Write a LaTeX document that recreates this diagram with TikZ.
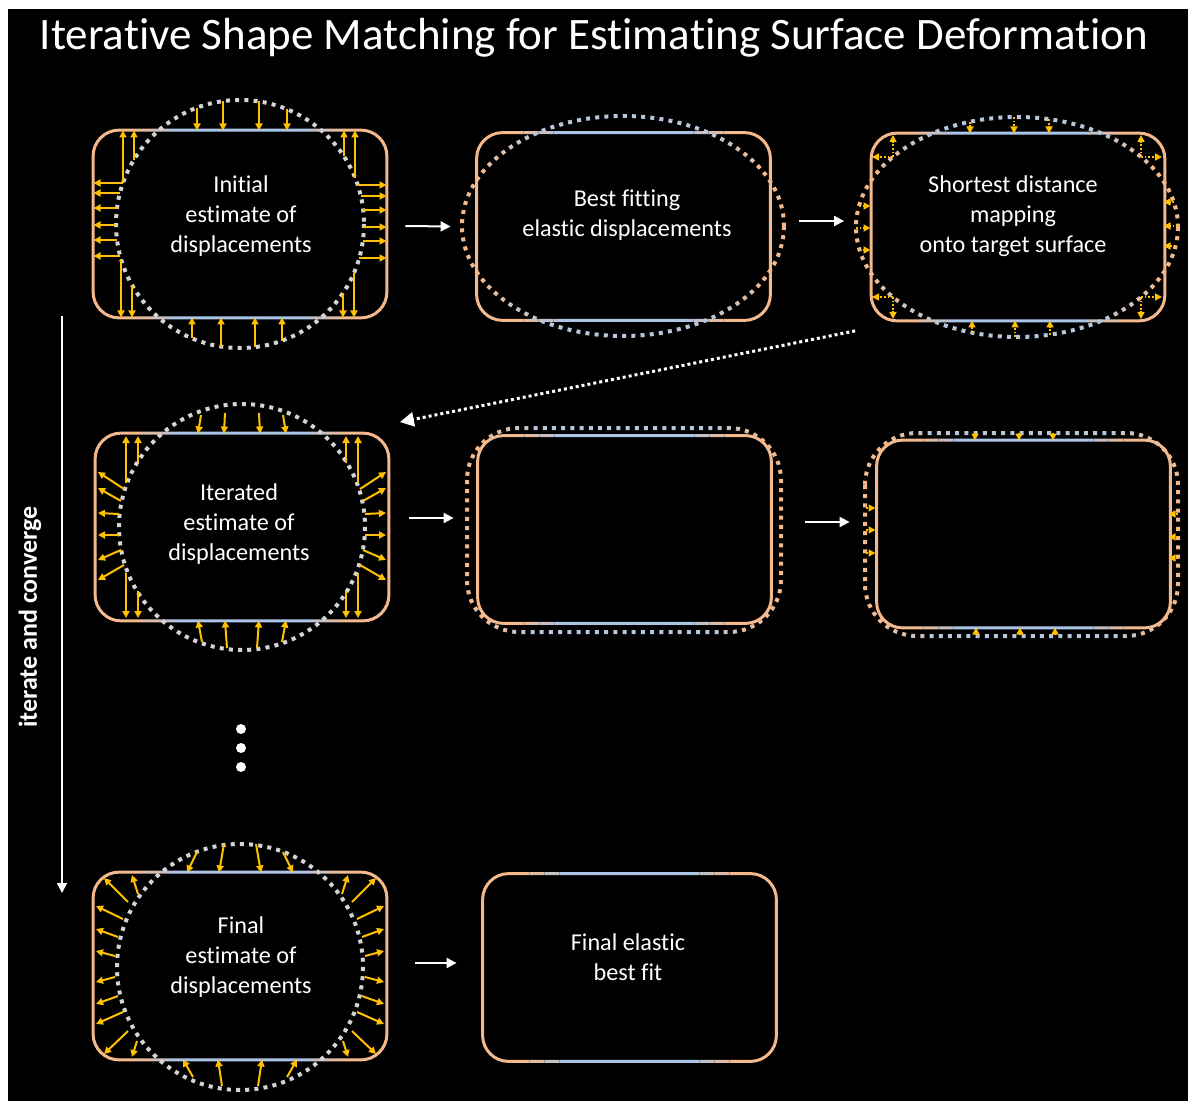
\documentclass[tikz,border=0pt]{standalone}
\usepackage{fontspec}
\setmainfont{Carlito}[Ligatures=NoCommon]
\usetikzlibrary{arrows.meta, positioning, calc}

\definecolor{boxorange}{RGB}{243,185,140}
\definecolor{edgeblue}{RGB}{172,196,230}
\definecolor{dotblue}{RGB}{182,198,220}
\definecolor{dotgray}{RGB}{212,212,212}
\definecolor{dispyellow}{RGB}{255,192,0}

% colour bands: distance from the panel centre / orange share
\newcommand{\boxbands}{0/70/0,70/85/35,85/100/70,100/400/100}
\newcommand{\dotbands}{0/95/0,95/115/35,115/135/70,135/400/100}
% same path drawn band by band, orange at the sides, blue in the middle
\newcommand{\banded}[4]{%
  \foreach \lo/\hi/\mix in #2 {%
    \begin{scope}
      \clip ({#1-\hi},0) rectangle ({#1-\lo},1101) ({#1+\lo},0) rectangle ({#1+\hi},1101);
      \draw[#3=\mix] #4;
    \end{scope}}}

\tikzset{
  panelbox/.style={rectangle, minimum width=146.5pt, minimum height=93.5pt, inner sep=0pt},
  rimline/.style={line width=1.5pt, draw=boxorange!#1!edgeblue},
  fitdots/.style={line width=2pt, dash pattern=on 2pt off 2.6pt, draw=boxorange!#1!dotblue},
  target/.style={draw=dotgray, line width=2pt, dash pattern=on 2pt off 2.6pt},
  paneltext/.style={text=white, align=center, font=\fontsize{12.1}{15}\selectfont},
  disp/.style={draw=dispyellow, line width=1pt, -{Triangle[length=3.5pt,width=3.5pt]}},
  snap/.style={disp, line width=0.8pt, dash pattern=on 0.9pt off 0.9pt},
  flow/.style={draw=white, line width=1pt, -{Triangle[length=5pt,width=5pt]}},
  loopback/.style={draw=white, line width=1.5pt, dash pattern=on 1.5pt off 1.5pt, -{Triangle[length=7pt,width=7pt]}}
}

\begin{document}
\begin{tikzpicture}[x=0.5pt, y=-0.5pt]
    \useasboundingbox (0,0) rectangle (1188,1101);
    \fill[white] (0,0) rectangle (1188,1101);
    \fill[black] (8,9) rectangle (1188,1101);

    \node[text=white, font=\fontsize{22.5}{27}\selectfont, anchor=base] (title) at (594,50)
        {Iterative Shape Matching for Estimating Surface Deformation};

    % Panels
    \node[panelbox] (init)  at (240,224)      {};
    \node[panelbox] (fit)   at (623.5,226.5)  {};
    \node[panelbox] (map)   at (1018,227)     {};
    \node[panelbox] (iter)  at (242,527)      {};
    \node[panelbox] (fit2)  at (624.5,529.5)  {};
    \node[panelbox] (map2)  at (1023.5,534)   {};
    \node[panelbox] (final) at (240,966)      {};
    \node[panelbox] (best)  at (629.5,967.5)  {};

    \banded{240}{\boxbands}{rimline}{[rounded corners=13pt] (init.south west) rectangle (init.north east)}
    \banded{623.5}{\boxbands}{rimline}{[rounded corners=13pt] (fit.south west) rectangle (fit.north east)}
    \banded{1018}{\boxbands}{rimline}{[rounded corners=13pt] (map.south west) rectangle (map.north east)}
    \banded{242}{\boxbands}{rimline}{[rounded corners=13pt] (iter.south west) rectangle (iter.north east)}
    \banded{624.5}{\boxbands}{rimline}{[rounded corners=13pt] (fit2.south west) rectangle (fit2.north east)}
    \banded{1023.5}{\boxbands}{rimline}{[rounded corners=13pt] (map2.south west) rectangle (map2.north east)}
    \banded{240}{\boxbands}{rimline}{[rounded corners=13pt] (final.south west) rectangle (final.north east)}
    \banded{629.5}{\boxbands}{rimline}{[rounded corners=13pt] (best.south west) rectangle (best.north east)}

    % Target surface and fitted outlines
    \draw[target] (init.center) circle[radius=124];
    \draw[target] (iter.center) circle[radius=123];
    \draw[target] (240,967) circle[radius=123];
    \banded{623}{\dotbands}{fitdots}{(623,226) ellipse [x radius=161, y radius=110]}
    \banded{1017}{\dotbands}{fitdots}{(1017,227) ellipse [x radius=161, y radius=110]}
    \banded{624}{\dotbands}{fitdots}{[rounded corners=26pt] (467,428) rectangle (781,632)}
    \banded{1022}{\dotbands}{fitdots}{[rounded corners=26pt] (865,433) rectangle (1178,636)}

    % Texts
    \node[paneltext] (initT)  at (241,216) {Initial\\estimate of\\displacements};
    \node[paneltext] (fitT)   at (627,215) {Best fitting\\elastic displacements};
    \node[paneltext] (mapT)   at (1013,216) {Shortest distance\\mapping\\onto target surface};
    \node[paneltext] (iterT)  at (239,524) {Iterated\\estimate of\\displacements};
    \node[paneltext] (finalT) at (241,957) {Final\\estimate of\\displacements};
    \node[paneltext] (bestT)  at (628,957) {Final elastic\\best fit};

    % Initial displacements, straight onto the box
    \begin{scope}[shift={(init.center)}]
        \foreach \d in {-117,-106,-43,-17,19,47,104,115} {
            \pgfmathsetmacro\h{sqrt(15376-(\d)^2)}
            \draw[disp] (\d,-\h) -- (\d,-93.5);
        }
        \foreach \d in {-119,-108,-48,-19,15,42,103,114} {
            \pgfmathsetmacro\h{sqrt(15376-(\d)^2)}
            \draw[disp] (\d,\h) -- (\d,93.5);
        }
        \foreach \d in {-41,-31,-16,1,16,32} {
            \pgfmathsetmacro\h{sqrt(15376-(\d)^2)}
            \draw[disp] (-\h,\d) -- (-146.5,\d);
        }
        \foreach \d in {-39,-28,-14,3,17,34} {
            \pgfmathsetmacro\h{sqrt(15376-(\d)^2)}
            \draw[disp] (\h,\d) -- (146.5,\d);
        }
    \end{scope}

    % Iterated displacements (left half, mirrored)
    \begin{scope}[shift={(iter.center)}]
        \foreach \s in {1,-1}
        \foreach \xa/\ya/\xb/\yb in {-41/-112/-44/-93.5, -17/-114/-18/-93.5, -116/-44/-116/-91, -104/-64/-104/-91,
                -118/-38/-144/-55, -121/-26/-144/-39, -123/-13/-144/-14, -123/8/-144/8, -121/23/-144/33, -118/38/-144/53,
                -116/46/-116/91, -104/64/-104/91, -40/115/-44/93.5, -15/121/-17/93.5}
            \draw[disp] ({\s*(\xa)},\ya) -- ({\s*(\xb)},\yb);
    \end{scope}

    % Final displacements (left half, mirrored)
    \begin{scope}[shift={(240,966)}]
        \foreach \s in {1,-1}
        \foreach \xa/\ya/\xb/\yb in {-43/-114/-53/-93.5, -16/-122/-21/-93.5, -112/-64/-136/-88, -102/-72/-108/-91,
                -117/-47/-144/-60, -122/-29/-144/-37, -125/-10/-144/-15, -125/11/-144/16, -122/30/-144/38, -117/46/-144/58,
                -112/65/-136/88, -103/75/-108/91, -47/111/-57/93.5, -18/120/-22/93.5}
            \draw[disp] ({\s*(\xa)},\ya) -- ({\s*(\xb)},\yb);
    \end{scope}

    % Shortest distance mapping, ellipse onto box
    \begin{scope}[shift={(1017,227)}]
        \foreach \d in {-47,-3,32} {
            \pgfmathsetmacro\h{110*sqrt(1-((\d)/161)^2)}
            \draw[snap] (\d,-\h) -- (\d,-93.5);
        }
        \foreach \d in {-45,-2,33} {
            \pgfmathsetmacro\h{110*sqrt(1-((\d)/161)^2)}
            \draw[snap] (\d,\h) -- (\d,93.5);
        }
        \foreach \d in {-21,1,23} {
            \pgfmathsetmacro\h{161*sqrt(1-((\d)/110)^2)}
            \draw[snap] (-\h,\d) -- (-146.5,\d);
        }
        \foreach \d in {-25,-1,19} {
            \pgfmathsetmacro\h{161*sqrt(1-((\d)/110)^2)}
            \draw[snap] (\h,\d) -- (146.5,\d);
        }
        \foreach \sx/\sy in {1/1,1/-1,-1/1,-1/-1} {
            \draw[snap] ({124*\sx},{70*\sy}) -- ({124*\sx},{92*\sy});
            \draw[snap] ({124*\sx},{70*\sy}) -- ({145*\sx},{70*\sy});
        }
    \end{scope}

    % Shortest distance mapping, second pass
    \begin{scope}[shift={(1022,534)}]
        \foreach \d in {-47,-3,31} \draw[snap] (\d,-101) -- (\d,-93.5);
        \foreach \d in {-46,-2,33} \draw[snap] (\d,101) -- (\d,93.5);
        \foreach \d in {-26,-4,19} \draw[snap] (-156,\d) -- (-146.5,\d);
        \foreach \d in {-20,3,24}  \draw[snap] (156,\d) -- (146.5,\d);
    \end{scope}

    % Flow between panels
    \draw[flow] ([xshift=9.25pt,yshift=-1pt]init.east) -- ([xshift=-13pt]fit.west);
    \draw[flow] ([xshift=14.5pt,yshift=2.75pt]fit.east) -- ([xshift=-13.5pt,yshift=3pt]map.west);
    \draw[flow] ([xshift=10.25pt,yshift=4.5pt]iter.east) -- ([xshift=-12pt,yshift=5.75pt]fit2.west);
    \draw[flow] ([xshift=17pt,yshift=3.75pt]fit2.east) -- ([xshift=-13.5pt,yshift=6pt]map2.west);
    \draw[flow] ([xshift=14.25pt,yshift=1.5pt]final.east) -- ([xshift=-13pt,yshift=2.25pt]best.west);
    \draw[loopback] ([xshift=-8pt,yshift=-5pt]map.south west) -- ([xshift=5.5pt,yshift=5.5pt]iter.north east);

    % Iteration axis
    \coordinate (loopTop) at (62,316);
    \coordinate (loopBot) at (62,893);
    \draw[flow, line width=0.75pt] (loopTop) -- (loopBot);
    \node[rotate=90, text=white, font=\bfseries\fontsize{13}{15}\selectfont] (loopT) at (30,617) {iterate and converge};

    \foreach \y in {729,748,767} \fill[white] (241,\y) circle[radius=5];
\end{tikzpicture}
\end{document}
